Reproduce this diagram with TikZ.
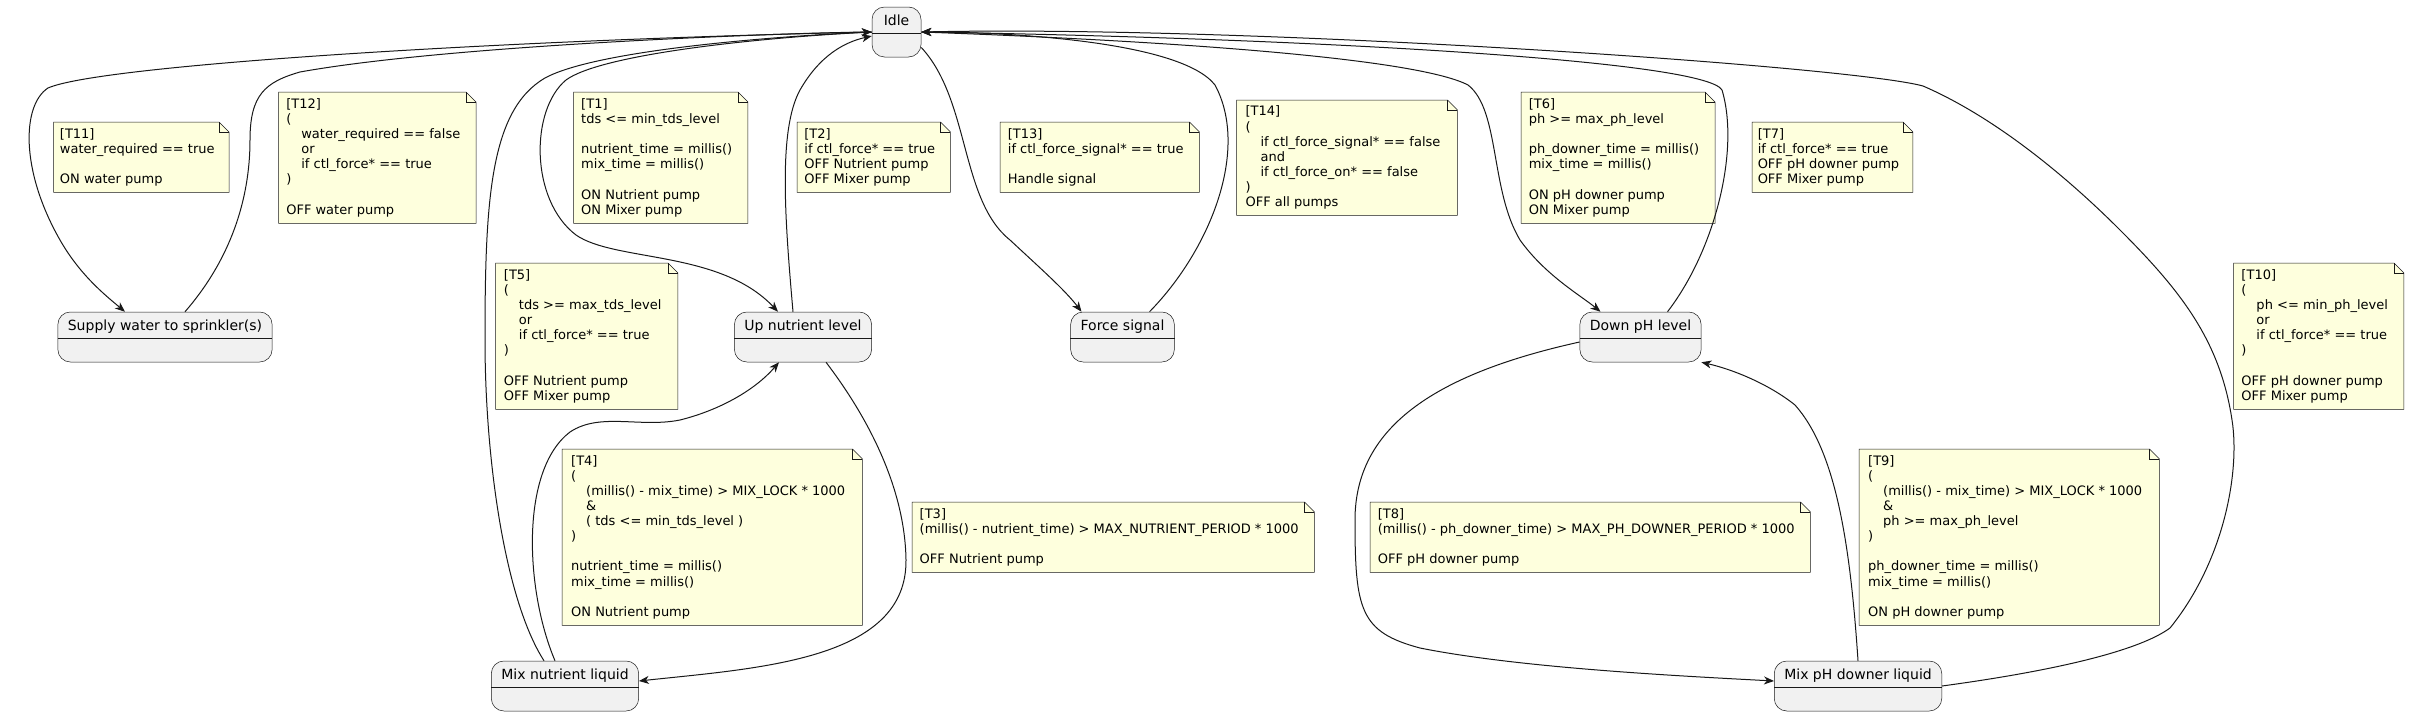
\documentclass[tikz,border=0pt]{standalone}
\usepackage{fontspec}
\setmainfont{DejaVu Sans}
\usetikzlibrary{arrows.meta,backgrounds}
\definecolor{linec}{HTML}{181818}
\definecolor{statebg}{HTML}{F1F1F1}
\definecolor{notebg}{HTML}{FEFFDD}
\newcommand{\ind}{\hspace*{15pt}}
\begin{document}
\begin{tikzpicture}[x=1pt,y=-1pt,
    state/.style={draw=linec,fill=statebg,line width=0.5pt,rounded corners=12.5pt,font=\fontsize{14}{16}\selectfont,inner xsep=10pt,inner ysep=0pt,text height=18pt,text depth=32pt},
    note/.style={font=\fontsize{13}{15.1}\selectfont,align=left,inner sep=0pt,anchor=north west},
    noteline/.style={draw=linec,fill=notebg,line width=0.5pt},
    tr/.style={draw=linec,line width=1pt,-{Stealth[length=10pt,width=8pt,inset=3pt]}}]
  \useasboundingbox (0,0) rectangle (2409,715);

  \node[state,minimum width=49pt] (idle) at (896.5,32) {Idle};
  \node[state] (water) at (165,337) {Supply water to sprinkler(s)};
  \node[state] (upnut) at (803,337) {Up nutrient level};
  \node[state] (force) at (1122.5,337) {Force signal};
  \node[state] (downph) at (1640.5,337) {Down pH level};
  \node[state] (mixnut) at (565,686) {Mix nutrient liquid};
  \node[state] (mixph) at (1858,686) {Mix pH downer liquid};
  \foreach \st in {idle,water,upnut,force,downph,mixnut,mixph}
    \draw[linec,line width=0.5pt] ([yshift=-26pt]\st.north west) -- ([yshift=-26pt]\st.north east);

  \node[note,minimum width=167pt,minimum height=70pt] (t11) at (53.6,122) {[T11]\\water\_required == true\\ ~\\ON water pump};
  \node[note,minimum width=189pt,minimum height=131pt] (t12) at (278.6,92) {[T12]\\(\\\ind water\_required == false\\\ind or\\\ind if ctl\_force* == true\\)\\ ~\\OFF water pump};
  \node[note,minimum width=166pt,minimum height=131pt] (t1) at (573.5,92) {[T1]\\tds <= min\_tds\_level\\ ~\\nutrient\_time = millis()\\mix\_time = millis()\\ ~\\ON Nutrient pump\\ON Mixer pump};
  \node[note,minimum width=174pt,minimum height=146pt] (t5) at (495.5,263) {[T5]\\(\\\ind tds >= max\_tds\_level\\\ind or\\\ind if ctl\_force* == true\\)\\ ~\\OFF Nutrient pump\\OFF Mixer pump};
  \node[note,minimum width=145pt,minimum height=70pt] (t2) at (797,122) {[T2]\\if ctl\_force* == true\\OFF Nutrient pump\\OFF Mixer pump};
  \node[note,minimum width=191pt,minimum height=70pt] (t13) at (1000,122) {[T13]\\if ctl\_force\_signal* == true\\ ~\\Handle signal};
  \node[note,minimum width=212.5pt,minimum height=115pt] (t14) at (1236.5,100) {[T14]\\(\\\ind if ctl\_force\_signal* == false\\\ind and\\\ind if ctl\_force\_on* == false\\)\\OFF all pumps};
  \node[note,minimum width=185.6pt,minimum height=131pt] (t6) at (1521,92) {[T6]\\ph >= max\_ph\_level\\ ~\\ph\_downer\_time = millis()\\mix\_time = millis()\\ ~\\ON pH downer pump\\ON Mixer pump};
  \node[note,minimum width=152.5pt,minimum height=70pt] (t7) at (1752,122) {[T7]\\if ctl\_force* == true\\OFF pH downer pump\\OFF Mixer pump};
  \node[note,minimum width=162pt,minimum height=146pt] (t10) at (2233.5,263) {[T10]\\(\\\ind ph <= min\_ph\_level\\\ind or\\\ind if ctl\_force* == true\\)\\ ~\\OFF pH downer pump\\OFF Mixer pump};
  \node[note,minimum width=292pt,minimum height=176pt] (t4) at (562,449) {[T4]\\(\\\ind (millis() - mix\_time) > MIX\_LOCK * 1000\\\ind \&\\\ind ( tds <= min\_tds\_level )\\)\\ ~\\nutrient\_time = millis()\\mix\_time = millis()\\ ~\\ON Nutrient pump};
  \node[note,minimum width=394pt,minimum height=70pt] (t3) at (912,502) {[T3]\\(millis() - nutrient\_time) > MAX\_NUTRIENT\_PERIOD * 1000\\ ~\\OFF Nutrient pump};
  \node[note,minimum width=432pt,minimum height=70pt] (t8) at (1370,502) {[T8]\\(millis() - ph\_downer\_time) > MAX\_PH\_DOWNER\_PERIOD * 1000\\ ~\\OFF pH downer pump};
  \node[note,minimum width=292pt,minimum height=176pt] (t9) at (1859,449) {[T9]\\(\\\ind (millis() - mix\_time) > MIX\_LOCK * 1000\\\ind \&\\\ind ph >= max\_ph\_level\\)\\ ~\\ph\_downer\_time = millis()\\mix\_time = millis()\\ ~\\ON pH downer pump};
  \begin{scope}[on background layer]
    \foreach \nt in {t1,t2,t3,t4,t5,t6,t7,t8,t9,t10,t11,t12,t13,t14} {
      \filldraw[noteline] (\nt.north west) -- ([xshift=-2pt]\nt.north east) -- ([xshift=8pt,yshift=-10pt]\nt.north east) -- ([xshift=8pt]\nt.south east) -- (\nt.south west) -- cycle;
      \draw[noteline,fill=none] ([xshift=-2pt]\nt.north east) -- ([xshift=-2pt,yshift=-10pt]\nt.north east) -- ([xshift=8pt,yshift=-10pt]\nt.north east);
    }
  \end{scope}

  \draw[tr] (idle.west) .. controls (500,40) and (100,65) .. (48,88) .. controls (22,105) and (20,170) .. (60,240) .. controls (80,275) and (105,295) .. ([xshift=-40pt]water.north);
  \draw[tr] ([xshift=20pt]water.north) .. controls (230,260) and (250,200) .. (250,140) .. controls (250,95) and (265,82) .. (300,72) .. controls (450,45) and (780,33) .. (idle.west);
  \draw[tr] (idle.west) .. controls (750,38) and (600,55) .. (566,80) .. controls (530,110) and (530,200) .. (576,235) .. controls (615,262) and (720,250) .. ([xshift=-25pt]upnut.north);
  \draw[tr] ([xshift=-10pt]upnut.north) .. controls (785,220) and (778,130) .. (800,90) .. controls (820,55) and (845,42) .. ([yshift=-4pt]idle.west);
  \draw[tr] (idle.-32) .. controls (970,100) and (960,200) .. (1010,240) .. controls (1040,268) and (1065,290) .. ([xshift=-41pt]force.north);
  \draw[tr] ([xshift=27pt]force.north) .. controls (1210,250) and (1250,150) .. (1215,85) .. controls (1180,40) and (1000,32) .. (idle.east);
  \draw[tr] (idle.east) .. controls (1200,42) and (1420,60) .. (1468,85) .. controls (1500,110) and (1490,190) .. (1520,240) .. controls (1545,275) and (1580,295) .. ([xshift=-40pt]downph.north);
  \draw[tr] ([xshift=27pt]downph.north) .. controls (1715,250) and (1740,150) .. (1722,90) .. controls (1705,60) and (1300,38) .. (idle.east);
  \draw[tr] (mixph.east) .. controls (2060,670) and (2140,650) .. (2170,628) .. controls (2225,560) and (2240,470) .. (2232,420) .. controls (2220,340) and (2180,290) .. (2120,230) .. controls (2060,170) and (1990,115) .. (1923,86) .. controls (1850,66) and (1250,25) .. (idle.east);
  \draw[tr] ([yshift=-5pt]downph.west) .. controls (1430,375) and (1355,430) .. (1355,520) .. controls (1355,610) and (1360,632) .. (1420,648) .. controls (1520,668) and (1680,676) .. ([yshift=5pt]mixph.west);
  \draw[tr] (mixph.north) .. controls (1850,540) and (1835,450) .. (1795,405) .. controls (1770,385) and (1735,370) .. (downph.south east);
  \draw[tr] ([xshift=23pt]upnut.south) .. controls (870,420) and (905,490) .. (906,560) .. controls (907,660) and (760,668) .. ([yshift=5pt]mixnut.east);
  \draw[tr] ([xshift=-10pt]mixnut.north) .. controls (525,590) and (520,470) .. (570,432) .. controls (600,412) and (640,428) .. (680,420) .. controls (720,410) and (755,390) .. ([xshift=-24pt]upnut.south);
  \draw[tr] ([xshift=-21pt]mixnut.north) .. controls (505,600) and (485,460) .. (485,340) .. controls (485,200) and (490,110) .. (545,78) .. controls (600,48) and (800,35) .. (idle.west);
\end{tikzpicture}
\end{document}
